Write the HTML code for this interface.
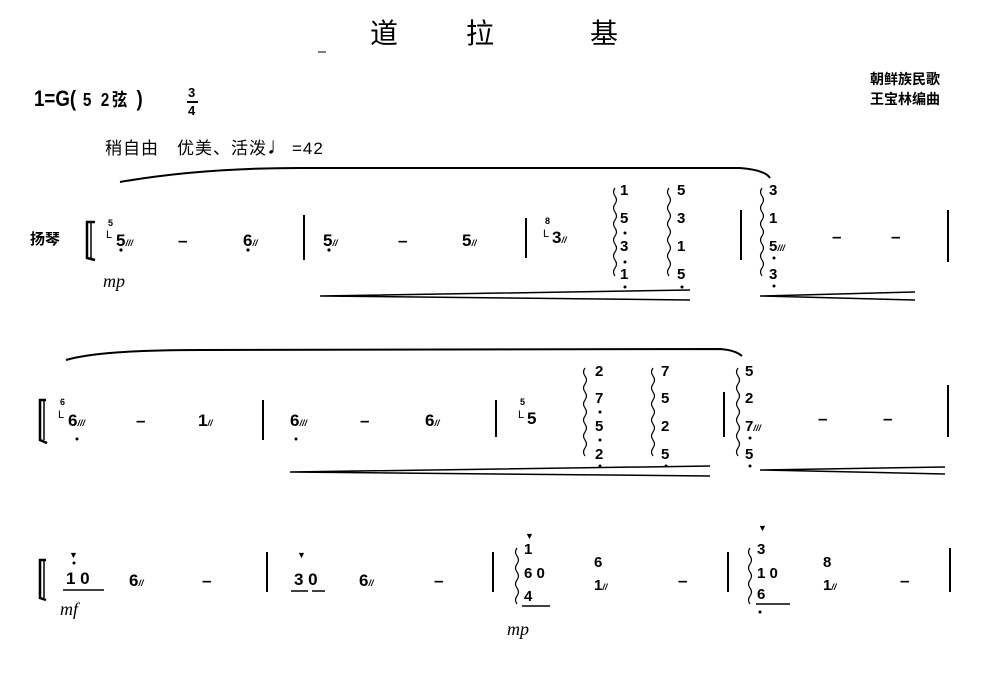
<!DOCTYPE html>
<html><head><meta charset="utf-8"><style>
body{margin:0;background:#fff;}
#p{position:relative;width:1000px;height:674px;overflow:hidden;background:#fff;font-family:"Liberation Sans","Noto Sans CJK SC",sans-serif;color:#000;}
.t{position:absolute;font-weight:bold;line-height:1;white-space:nowrap;}
.n{position:absolute;font-weight:bold;font-size:17px;line-height:1;}
.s{position:absolute;font-weight:bold;font-size:15px;line-height:1;}
.i{position:absolute;font-family:"Liberation Serif",serif;font-style:italic;font-size:18px;line-height:1;}
.tr{font-size:9px;font-style:italic;font-weight:bold;}
svg{position:absolute;left:0;top:0;}
</style></head><body><div id="p">
<svg width="1000" height="674" stroke="#000" fill="none">
<path d="M120,182 Q200,168 300,168 L740,168 Q765,170 770,178" stroke-width="2"/>
<path d="M66,360 Q100,350 200,350 L720,349 Q735,350 742,356" stroke-width="2"/>
<g stroke-width="2">
<line x1="304" y1="215" x2="304" y2="260"/><line x1="526" y1="218" x2="526" y2="258"/>
<line x1="741" y1="210" x2="741" y2="260"/><line x1="948" y1="210" x2="948" y2="262"/>
<line x1="263" y1="400" x2="263" y2="440"/><line x1="496" y1="400" x2="496" y2="437"/>
<line x1="724" y1="392" x2="724" y2="437"/><line x1="948" y1="385" x2="948" y2="437"/>
<line x1="267" y1="552" x2="267" y2="592"/><line x1="493" y1="552" x2="493" y2="592"/>
<line x1="728" y1="552" x2="728" y2="592"/><line x1="950" y1="548" x2="950" y2="592"/>
</g>
<path d="M95,222 L87,222 L87,258 L95,260" stroke-width="2.5"/><line x1="91" y1="222" x2="91" y2="258" stroke-width="1.5"/>
<path d="M46,400 L40,400 L40,440 L47,443" stroke-width="2.5"/><line x1="44" y1="400" x2="44" y2="440" stroke-width="1.5"/>
<path d="M46,560 L40,560 L40,598 L46,600" stroke-width="2.5"/><line x1="44" y1="560" x2="44" y2="598" stroke-width="1.5"/>
<path d="M690,290 L320,296 L690,300" stroke-width="1.5"/>
<path d="M915,292 L760,296 L915,300" stroke-width="1.5"/>
<path d="M710,466 L290,472 L710,476" stroke-width="1.5"/>
<path d="M945,467 L760,470 L945,474" stroke-width="1.5"/>
<g stroke-width="1.2">
<path d="M615,188 q-3,4 0,8 q3,4 0,8 q-3,4 0,8 q3,4 0,8 q-3,4 0,8 q3,4 0,8 q-3,4 0,8 q3,4 0,8 q-3,4 0,8 q3,4 0,8 q-3,4 0,8"/>
<path d="M669,188 q-3,4 0,8 q3,4 0,8 q-3,4 0,8 q3,4 0,8 q-3,4 0,8 q3,4 0,8 q-3,4 0,8 q3,4 0,8 q-3,4 0,8 q3,4 0,8 q-3,4 0,8"/>
<path d="M762,188 q-3,4 0,8 q3,4 0,8 q-3,4 0,8 q3,4 0,8 q-3,4 0,8 q3,4 0,8 q-3,4 0,8 q3,4 0,8 q-3,4 0,8 q3,4 0,8 q-3,4 0,8"/>
<path d="M585,368 q-3,4 0,8 q3,4 0,8 q-3,4 0,8 q3,4 0,8 q-3,4 0,8 q3,4 0,8 q-3,4 0,8 q3,4 0,8 q-3,4 0,8 q3,4 0,8 q-3,4 0,8"/>
<path d="M653,368 q-3,4 0,8 q3,4 0,8 q-3,4 0,8 q3,4 0,8 q-3,4 0,8 q3,4 0,8 q-3,4 0,8 q3,4 0,8 q-3,4 0,8 q3,4 0,8 q-3,4 0,8"/>
<path d="M738,368 q-3,4 0,8 q3,4 0,8 q-3,4 0,8 q3,4 0,8 q-3,4 0,8 q3,4 0,8 q-3,4 0,8 q3,4 0,8 q-3,4 0,8 q3,4 0,8 q-3,4 0,8"/>
<path d="M517,548 q-3,4 0,8 q3,4 0,8 q-3,4 0,8 q3,4 0,8 q-3,4 0,8 q3,4 0,8 q-3,4 0,8"/>
<path d="M750,548 q-3,4 0,8 q3,4 0,8 q-3,4 0,8 q3,4 0,8 q-3,4 0,8 q3,4 0,8 q-3,4 0,8"/>
</g>
<g stroke-width="1.5">
<line x1="63" y1="590" x2="104" y2="590"/><line x1="291" y1="591" x2="308" y2="591"/><line x1="312" y1="591" x2="325" y2="591"/>
<line x1="522" y1="606" x2="550" y2="606"/><line x1="756" y1="604" x2="790" y2="604"/>
</g>
<g fill="#000" stroke="none">
<circle cx="121" cy="250" r="1.6"/><circle cx="248" cy="250" r="1.6"/><circle cx="329" cy="250" r="1.6"/>
<circle cx="625" cy="233" r="1.5"/><circle cx="625" cy="262" r="1.5"/><circle cx="625" cy="287" r="1.5"/><circle cx="682" cy="287" r="1.5"/>
<circle cx="774" cy="258" r="1.5"/><circle cx="774" cy="286" r="1.5"/>
<circle cx="77" cy="439" r="1.5"/><circle cx="296" cy="439" r="1.5"/>
<circle cx="600" cy="412" r="1.5"/><circle cx="600" cy="440" r="1.5"/><circle cx="600" cy="466" r="1.5"/><circle cx="666" cy="466" r="1.5"/>
<circle cx="750" cy="438" r="1.5"/><circle cx="750" cy="466" r="1.5"/>
<circle cx="74" cy="563" r="1.5"/><circle cx="760" cy="612" r="1.5"/>
</g>
<path d="M318,52 L326,52" stroke-width="1"/>
</svg>

<div class="t" style="left:370px;top:20px;font-size:28px;font-weight:normal;">道</div>
<div class="t" style="left:466px;top:20px;font-size:28px;font-weight:normal;">拉</div>
<div class="t" style="left:590px;top:20px;font-size:28px;font-weight:normal;">基</div>
<div class="t" style="left:34px;top:88px;font-size:22px;transform:scaleX(0.85);transform-origin:left;">1=G(<span style="font-size:18px;letter-spacing:3px"> 5 2弦 </span>)</div>
<div class="t" style="left:188px;top:86px;font-size:13px;">3</div>
<div style="position:absolute;left:187px;top:101px;width:11px;height:2px;background:#000"></div>
<div class="t" style="left:188px;top:104px;font-size:13px;">4</div>
<div class="t" style="left:870px;top:72px;font-size:14px;">朝鲜族民歌</div>
<div class="t" style="left:870px;top:92px;font-size:14px;">王宝林编曲</div>
<div class="t" style="left:105px;top:135px;font-size:17px;font-weight:normal;letter-spacing:1px;">稍自由　优美、活泼<span style="font-size:24px;font-weight:bold">♩</span>=42</div>

<div class="t" style="left:30px;top:232px;font-size:15px;">扬琴</div>
<div class="s" style="left:108px;top:219px;font-size:9px;">5</div>
<div class="s" style="left:106px;top:230px;font-size:11px;font-weight:normal">L</div>
<div class="n" style="left:116px;top:232px;">5<span class="tr">///</span></div>
<div class="n" style="left:178px;top:232px;">–</div>
<div class="n" style="left:243px;top:232px;">6<span class="tr">//</span></div>
<div class="n" style="left:323px;top:232px;">5<span class="tr">//</span></div>
<div class="n" style="left:398px;top:232px;">–</div>
<div class="n" style="left:462px;top:232px;">5<span class="tr">//</span></div>
<div class="s" style="left:545px;top:217px;font-size:9px;">8</div>
<div class="s" style="left:543px;top:229px;font-size:11px;font-weight:normal">L</div>
<div class="n" style="left:552px;top:229px;">3<span class="tr">//</span></div>
<div class="s" style="left:620px;top:183px;">1</div><div class="s" style="left:620px;top:211px;">5</div><div class="s" style="left:620px;top:239px;">3</div><div class="s" style="left:620px;top:267px;">1</div>
<div class="s" style="left:677px;top:183px;">5</div><div class="s" style="left:677px;top:211px;">3</div><div class="s" style="left:677px;top:239px;">1</div><div class="s" style="left:677px;top:267px;">5</div>
<div class="s" style="left:769px;top:183px;">3</div><div class="s" style="left:769px;top:211px;">1</div><div class="s" style="left:769px;top:239px;">5<span class="tr">///</span></div><div class="s" style="left:769px;top:267px;">3</div>
<div class="n" style="left:832px;top:228px;">–</div><div class="n" style="left:891px;top:228px;">–</div>
<div class="i" style="left:103px;top:272px;">mp</div>

<div class="s" style="left:60px;top:398px;font-size:9px;">6</div>
<div class="s" style="left:58px;top:410px;font-size:11px;font-weight:normal">L</div>
<div class="n" style="left:68px;top:412px;">6<span class="tr">///</span></div>
<div class="n" style="left:136px;top:412px;">–</div>
<div class="n" style="left:198px;top:412px;">1<span class="tr">//</span></div>
<div class="n" style="left:290px;top:412px;">6<span class="tr">///</span></div>
<div class="n" style="left:360px;top:412px;">–</div>
<div class="n" style="left:425px;top:412px;">6<span class="tr">//</span></div>
<div class="s" style="left:520px;top:398px;font-size:9px;">5</div>
<div class="s" style="left:518px;top:410px;font-size:11px;font-weight:normal">L</div>
<div class="n" style="left:527px;top:410px;">5</div>
<div class="s" style="left:595px;top:364px;">2</div><div class="s" style="left:595px;top:391px;">7</div><div class="s" style="left:595px;top:419px;">5</div><div class="s" style="left:595px;top:447px;">2</div>
<div class="s" style="left:661px;top:364px;">7</div><div class="s" style="left:661px;top:391px;">5</div><div class="s" style="left:661px;top:419px;">2</div><div class="s" style="left:661px;top:447px;">5</div>
<div class="s" style="left:745px;top:364px;">5</div><div class="s" style="left:745px;top:391px;">2</div><div class="s" style="left:745px;top:419px;">7<span class="tr">///</span></div><div class="s" style="left:745px;top:447px;">5</div>
<div class="n" style="left:818px;top:410px;">–</div><div class="n" style="left:883px;top:410px;">–</div>

<div class="s" style="left:69px;top:551px;font-size:9px;">▼</div>
<div class="n" style="left:66px;top:570px;">1 0</div>
<div class="n" style="left:129px;top:572px;">6<span class="tr">//</span></div>
<div class="n" style="left:202px;top:572px;">–</div>
<div class="s" style="left:297px;top:551px;font-size:9px;">▼</div>
<div class="n" style="left:294px;top:571px;">3 0</div>
<div class="n" style="left:359px;top:572px;">6<span class="tr">//</span></div>
<div class="n" style="left:434px;top:572px;">–</div>
<div class="s" style="left:525px;top:532px;font-size:9px;">▼</div>
<div class="s" style="left:524px;top:542px;">1</div>
<div class="s" style="left:524px;top:566px;">6 0</div>
<div class="s" style="left:524px;top:589px;">4</div>
<div class="s" style="left:594px;top:555px;">6</div>
<div class="s" style="left:594px;top:578px;">1<span class="tr">//</span></div>
<div class="n" style="left:678px;top:572px;">–</div>
<div class="s" style="left:758px;top:524px;font-size:9px;">▼</div>
<div class="s" style="left:757px;top:542px;">3</div>
<div class="s" style="left:757px;top:566px;">1 0</div>
<div class="s" style="left:757px;top:587px;">6</div>
<div class="s" style="left:823px;top:555px;">8</div>
<div class="s" style="left:823px;top:578px;">1<span class="tr">//</span></div>
<div class="n" style="left:900px;top:572px;">–</div>
<div class="i" style="left:60px;top:600px;">mf</div>
<div class="i" style="left:507px;top:620px;">mp</div>
</div></body></html>
